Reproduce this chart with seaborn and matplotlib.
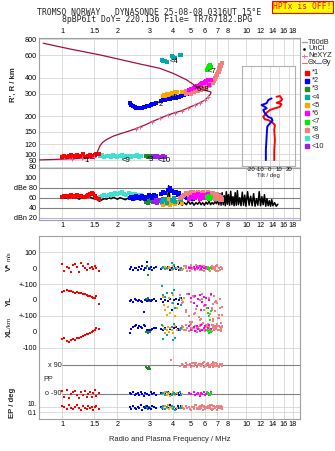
import numpy as np
import pandas as pd
import matplotlib
matplotlib.use("Agg")
import matplotlib.pyplot as plt
import matplotlib.ticker as mt
import seaborn as sns

nan = float("nan")

# ---------------- axis ticks ----------------
freq_ticks = [1, 1.5, 2, 3, 4, 5, 6, 7, 8, 10, 12, 14, 16, 18]
freq_ticklabels = ["1", "1.5", "2", "3", "4", "5", "6", "7", "8", "10", "12", "14", "16", "18"]
height_ticks = [80, 90, 100, 120, 150, 200, 300, 400, 600, 800]
db_ticks = [20, 40, 60, 80, 100]
db_ticklabels = ["dBn 20", "40", "60", "dBe 80", "100"]
tilt_ticks = [-20, -10, 0, 10, 20]

# ---------------- real-height profile ----------------
prof_f = [0.75, 0.85, 0.95, 1.05, 1.15, 1.25, 1.35, 1.45, 1.50, 1.53, 1.55, 1.58, 1.61, 1.66, 1.75,
          1.90, 2.10, 2.30, 2.52, 2.65, 2.85, 3.07, 3.41, 3.78, 4.10, 4.47, 4.86, 5.28, 5.63, 5.99,
          6.24, 6.40, 6.46, 6.38, 6.20, 5.85, 5.40, 4.76, 4.02, 3.41, 2.65, 1.61, 1.10, 0.79]
prof_h = [90.5, 91, 91.5, 92, 92.5, 93, 93.5, 94, 95, 98, 103, 110, 117, 124, 131,
          139, 146, 152, 159, 164, 171, 180, 192, 204, 212, 220, 232, 244, 254, 267,
          284, 296, 305, 311, 314, 320, 340, 384, 432, 473, 512, 603, 672, 745]
ne_f = [1.13, 1.28, 1.50, 2.52, 2.65, 3.07, 3.41, 3.78, 4.10, 4.47, 4.86, 5.28, 5.63, 5.99, 6.24]
ne_h = [92.4, 93.1, 95, 159, 164, 180, 192, 204, 212, 220, 232, 244, 254, 267, 284]

# ---------------- tilt inset ----------------
tiltx_deg = [7.1, 10.6, 13.1, 10.6, 7.1, 12.4, 10.6, 5.3, 0, -3.5, -7.1, -5.3, -1.8, 1.8, 5.3, 4.6, 5.3, 4.6, 4.6]
tiltx_h = [283, 287, 270, 259, 254, 248, 236, 230, 223, 212, 197, 188, 186, 180, 170, 155, 129, 108, 90]
tilty_deg = [1.8, -1.8, -3.5, -8.9, -5.3, -3.5, -7.1, -5.3, -1.8, 1.8, 2.8, 0, -2.8, -3.5, -4.3, -4.3]
tilty_h = [275, 267, 252, 244, 236, 230, 223, 210, 197, 192, 184, 175, 165, 137, 108, 90]

# ---------------- echo traces ----------------
trace_labels = ["*1", "*2", "*3", "<4", "<5", "*6", "<7", "*8", "<9", "<10"]
trace_colors = ["#ff0000", "#0000ff", "#208a20", "#00a8a8", "#ffa500",
                "#ff00ff", "#00ee00", "#f08080", "#40e0d0", "#9a20e8"]

t1_f = [1.00, 1.03, 1.06, 1.09, 1.12, 1.15, 1.18, 1.21, 1.24, 1.27, 1.30, 1.33, 1.36, 1.39, 1.42, 1.45, 1.48, 1.51, 1.54, 1.58]
t1_h = [96, 97, 95, 98, 99, 97, 96, 99, 95, 97, 100, 96, 95, 98, 99, 96, 97, 99, 100, 101]
t1_db = [62, 64, 63, 61, 65, 64, 62, 66, 63, 64, 61, 62, 64, 66, 68, 70, 67, 64, 60, 58]
t1_v = [25, -15, 10, 5, -20, 20, 30, 10, -25, 35, 15, 5, -10, 25, 0, 10, -5, 15, 5, -15]
t1_yl = [52, 56, 60, 54, 57, 50, 46, 52, 42, 44, 36, 38, 30, 28, 24, 18, 14, 10, 22, -22]
t1_xl = [-42, -38, -56, -62, -50, -46, -52, -36, -40, -30, -26, -20, -14, -10, -4, 2, 6, 12, 22, 16]
t1_pp = [-75, -110, -68, -115, -90, -82, -70, -100, -118, -78, -96, -72, -108, -93, -80, -112, -88, -66, -104, -85]
t1_ep = [30, 8, 2, 50, 5, 1, 15, 60, 3, 0.8, 20, 6, 1.5, 40, 4, 10, 0.7, 12, 25, 2]

t2_f = [2.34, 2.38, 2.43, 2.48, 2.53, 2.58, 2.63, 2.68, 2.73, 2.78, 2.84, 2.90, 2.96, 3.03, 3.10, 3.18,
        3.26, 3.45, 3.55, 3.65, 3.75, 3.85, 3.95, 4.05, 4.15, 4.25, 4.35, 4.45, 4.60, 4.80, 5.00, 5.15]
t2_h = [252, 245, 240, 236, 233, 232, 231, 232, 233, 234, 236, 238, 240, 244, 247, 250,
        254, 262, 265, 268, 270, 272, 275, 276, 279, 281, 283, 286, 291, 298, 305, 310]
t2_db = [60, 62, 58, 61, 63, 59, 62, 60, 64, 61, 58, 62, 65, 63, 60, 66,
         64, 68, 72, 70, 76, 80, 74, 69, 72, 66, 70, 64, 62, 60, 58, 57]
t2_v = [-5, 10, -10, 0, 5, -12, 8, -3, 12, -8, 3, 40, -5, 6, -10, 2,
        10, -6, 4, -2, 8, -12, 0, 14, -4, 6, -8, 3, nan, nan, nan, nan]
t2_yl = [-5, 0, -10, 5, -3, -8, 2, -6, -12, -72, 0, -4, 3, -8, -2, 4,
         -6, 8, -10, 2, -4, 6, -60, -3, 5, -22, -2, 10, nan, nan, nan, nan]
t2_xl = [-8, 20, 30, 38, 44, 25, 40, 32, 28, 45, 35, 15, 10, 12, 18, 22,
         25, 20, 15, 28, 30, 18, 12, 25, 30, 20, 15, 22, nan, nan, nan, nan]
t2_pp = [-88, -95, -82, -100, -90, -86, -97, -78, -92, -104, -85, -90, -96, -80, -93, -88,
         -101, -84, -91, -95, -79, -89, -98, -86, -92, -83, -100, -90, nan, nan, nan, nan]
t2_ep = [8, 2, 30, 5, 1.2, 15, 4, 50, 0.8, 10, 3, 20, 6, 1.5, 40, 7,
         2.5, 12, 0.9, 25, 5, 60, 3, 9, 1, 18, 4, 30, nan, nan, nan, nan]

t3_f = [2.85, 2.88, 2.92, 2.96, 3.02]
t3_h = [97, 98, 96, 97, 98]
t3_db = [52, 55, 50, 54, 53]
t3_v = [0, 12, -40, 5, -4]
t3_yl = [5, 0, 10, -5, 2]
t3_xl = [0, 4, -4, 0, 2]
t3_pp = [80, 70, 64, 76, 62]
t3_ep = [30, 5, 1, 12, 3]

t4_f = [3.48, 3.55, 3.62, 3.70, 3.95, 4.00, 4.05, 4.10, 4.38, 4.45]
t4_h = [548, 544, 540, 535, 590, 584, 572, 566, 600, 604]
t4_db = [52, 55, 58, 50, 56, 54, 60, 52, 58, 55]
t4_v = [0, 10, -5, 5, 35, -5, 20, 0, -10, 5]
t4_yl = [87, 31, 20, 45, 42, -21, 60, -50, 10, -30]
t4_xl = [44, -45, 20, -20, 30, -47, 50, -35, 10, 25]
t4_pp = [-90, -84, -96, -80, -100, -90, -86, -94, -82, -97]
t4_ep = [5, 20, 1, 8, 40, 2, 12, 0.8, 6, 3]

t5_f = [3.55, 3.60, 3.65, 3.70, 3.75, 3.80, 3.86, 3.95, 4.02, 4.10, 4.20, 4.47]
t5_h = [286, 292, 289, 298, 294, 290, 300, 304, 301, 307, 309, 311]
t5_db = [45, 50, 55, 48, 52, 58, 46, 50, 55, 48, 52, 50]
t5_v = [0, 5, 10, -5, 0, 8, 3, -8, 12, 0, 5, -3]
t5_yl = [20, -30, -60, -95, -45, 10, -80, -20, 30, -100, -50, 0]
t5_xl = [35, 20, -5, 10, 30, 0, 25, 15, -5, 35, 10, 20]
t5_pp = [-88, -95, -80, -100, -90, -84, -105, -92, -78, -96, -86, -90]
t5_ep = [8, 2, 25, 5, 50, 1, 10, 3, 15, 0.7, 6, 20]

t6_f = [4.90, 5.05, 5.20, 5.30, 5.40, 5.50, 5.60, 5.70, 5.80, 5.90, 6.00, 6.10, 6.20, 6.30, 6.45]
t6_h = [320, 326, 330, 335, 342, 338, 348, 354, 360, 366, 372, 378, 384, 352, 386]
t6_db = [58, 62, 66, 60, 64, 68, 57, 63, 66, 59, 65, 61, 67, 58, 62]
t6_v = [5, 0, 10, -5, 8, 2, 12, -3, 6, 0, 4, 10, -2, 5, 0]
t6_yl = [40, 10, -20, 25, -40, 5, 30, -63, -10, 20, -30, 15, -50, 0, 35]
t6_xl = [40, 12, 30, 5, 38, 20, 8, 42, 15, 28, 35, 10, 25, 44, 18]
t6_pp = [-86, -94, -80, -98, -90, -84, -102, -88, -92, -78, -96, -90, -85, -100, -82]
t6_ep = [nan, nan, nan, nan, nan, nan, nan, nan, nan, nan, nan, nan, nan, nan, nan]

t7_f = [6.15, 6.25, 6.30, 6.40, 6.45]
t7_h = [462, 476, 490, 502, 482]
t7_db = [62, 60, 64, 58, 61]
t7_v = [0, 5, -5, 0, 3]
t7_yl = [-52, -80, -100, -125, -70]
t7_xl = [10, 5, -5, 15, 0]
t7_pp = [-80, -95, -90, -100, -85]
t7_ep = [nan, nan, nan, nan, nan]

t8_f = [4.40, 4.50, 4.60, 4.70, 4.80, 4.90, 5.00, 5.10, 5.20, 5.30, 5.40, 5.50, 5.60, 5.70, 5.80, 5.90,
        6.00, 6.10, 6.20, 6.30, 6.40, 6.50, 6.60, 6.70, 6.80, 6.90, 7.00, 7.10, 7.20, 7.30, 7.40,
        5.25, 5.65, 5.95, 6.25, 6.55, 6.85, 7.05, 7.15, 7.35, 3.90,
        4.55, 4.75, 4.95, 5.15, 5.35, 5.45, 5.55, 5.75, 5.85, 6.05,
        6.15, 6.35, 6.45, 6.65, 6.75, 6.95, 7.25, 7.45, 5.05, 6.60]
t8_h = [nan, nan, nan, 300, 302, 304, 306, 308, 310, 312, 314, 316, 318, 321, 324, 328,
        332, 336, 341, 346, 352, 360, 368, 378, 390, 405, 422, 445, 470, 495, 520,
        322, 330, 340, 352, 374, 412, 440, 476, 505, nan,
        nan, 312, 314, 316, 320, 324, 326, 330, 334, 342,
        348, 360, 366, 385, 398, 430, 500, nan, 296, 360]
t8_db = [60, 62, 65, 68, 70, 66, 72, 68, 64, 70, 66, 72, 68, 63, 70, 66,
         62, 68, 72, 65, 60, 66, 70, 62, 58, 64, 68, 60, 56, 62, 58,
         66, 70, 64, 68, 60, 62, 58, 64, 55, nan,
         64, 70, 66, 72, 68, 62, 70, 66, 72, 64,
         68, 70, 62, 66, 60, 64, 58, 56, 68, 62]
t8_v = [5, -10, 15, 0, -15, 10, 20, -5, 8, -12, 3, 15, -8, 0, 12, -18,
        6, -4, 10, -10, 2, 14, -6, 8, 0, -14, 18, 4, -8, 10, -2,
        6, -12, 16, 0, -6, 12, -16, 4, 8, nan,
        -6, 12, -14, 4, 18, -2, 8, -10, 14, -4,
        6, -16, 10, 0, -8, 12, -12, 2, 16, -6]
t8_yl = [30, -20, 10, -60, 40, -100, -10, -140, 20, -80, -40, -170, 0, -120, 35, -60,
         -190, -30, -150, 15, -90, -50, -130, 25, -70, -160, -20, -110, 5, -180, -45,
         -85, -125, -35, -155, -65, -5, -115, -95, -145, nan,
         -15, -75, -135, 22, -55, -175, -105, 8, -145, -30,
         -185, -88, 32, -120, -10, -165, -50, -95, -140, -25]
t8_xl = [20, 35, 10, 45, 25, 5, 50, 15, 30, 40, 0, 22, 38, 12, 48, 28,
         8, 42, 18, 32, 2, 45, 25, 10, 36, 20, 50, 14, 30, 6, 40,
         26, 44, 16, 34, 4, 28, 12, 38, 22, nan,
         32, 14, 46, 24, 6, 38, 18, 50, 10, 30,
         44, 20, 4, 36, 26, 48, 12, 34, 22, 42]
t8_pp = [85, 95, 78, 100, 88, 92, 80, 104, 86, 96, 75, 90, 98, 82, 94, 106,
         84, 90, 100, 78, 88, 96, 80, 92, 102, 86, 94, 76, 98, 90, 84,
         100, 88, 80, 96, 92, 104, 86, 78, 94, 122,
         92, 80, 98, 86, 104, 76, 94, 88, 100, 82,
         96, 78, 90, 106, 84, 98, 88, 94, 80, 102]
t8_ep = [5, 20, 1, 40, 3, 10, 0.7, 15, 2, 50, 6, 1.5, 25, 4, 60, 8,
         0.9, 12, 30, 2.5, 7, 45, 1.2, 18, 3.5, 9, 0.8, 22, 5, 35, 2,
         14, 1, 28, 6, 0.6, 16, 4, 40, 11, nan,
         3, 25, 1, 12, 45, 2, 8, 30, 0.8, 15,
         4, 55, 1.5, 20, 6, 35, 2.5, 10, 0.7, 18]

t9_f = [1.60, 1.65, 1.70, 1.75, 1.80, 1.85, 1.90, 1.95, 2.00, 2.06, 2.12, 2.18, 2.24, 2.30, 2.36, 2.42, 2.48, 2.55, 2.62, 2.70]
t9_h = [97, 99, 96, 98, 97, 95, 99, 98, 96, 97, 99, 95, 98, 97, 96, 98, 97, 99, 96, 97]
t9_db = [62, 64, 66, 63, 65, 68, 66, 70, 67, 69, 72, 68, 66, 70, 67, 64, 68, 65, 63, 66]

t10_f = [3.00, 3.06, 3.12, 3.18, 3.24, 3.30, 3.38, 3.46, 3.55, 3.62]
t10_h = [96, 97, 95, 98, 96, 97, 95, 96, 97, 96]
t10_db = [55, 58, 52, 60, 54, 50, 56, 53, 58, 51]

# unclassified amplitude (black) in the dB panel
noise_f = [1.00, 1.04, 1.08, 1.12, 1.16, 1.20, 1.24, 1.28, 1.32, 1.36, 1.40, 1.44, 1.48, 1.52, 1.56, 1.60,
           1.65, 1.70, 1.75, 1.80, 1.85, 1.90, 1.95, 2.00, 2.07, 2.14, 2.21, 2.28, 2.35, 2.42, 2.50, 2.58, 2.66, 2.74, 2.82, 2.90,
           2.98, 3.06, 3.14, 3.22, 3.30, 3.38, 3.46, 3.54, 3.62, 3.70, 3.76, 3.80, 3.86, 3.94, 4.02, 4.10, 4.20, 4.30, 4.40, 4.50,
           4.62, 4.74, 4.86, 4.98, 5.10, 5.22, 5.34, 5.46, 5.58, 5.70, 5.82, 5.94, 6.06, 6.18, 6.30, 6.42, 6.54, 6.66, 6.78, 6.90,
           7.02, 7.12, 7.22, 7.32, 7.42, 7.52, 7.62, 7.72, 7.82, 7.92, 8.02, 8.14, 8.26, 8.38, 8.50, 8.62, 8.74, 8.86, 8.98, 9.10,
           9.25, 9.40, 9.55, 9.70, 9.85, 10.0, 10.2, 10.4, 10.6, 10.8, 11.0, 11.2, 11.4, 11.6, 11.8, 12.0, 12.2, 12.4, 12.6, 12.8,
           13.0, 13.2, 13.4, 13.6, 13.8, 14.0, 14.3, 14.6, 14.9]
noise_db = [59, 60, 58, 61, 59, 60, 57, 60, 62, 61, 63, 60, 58, 60, 55, 53,
            56, 58, 57, 60, 58, 61, 59, 57, 60, 58, 56, 59, 57, 60, 56, 58, 55, 57, 54, 56,
            52, 56, 50, 55, 49, 54, 47, 53, 45, 56, 62, 84, 58, 48, 55, 46, 54, 47, 52, 45,
            50, 46, 53, 47, 51, 45, 50, 47, 52, 46, 50, 45, 51, 47, 53, 46, 50, 47, 52, 48,
            55, 46, 68, 45, 70, 46, 64, 44, 72, 47, 66, 45, 73, 46, 62, 44, 70, 45, 74, 46,
            60, 44, 71, 45, 65, 43, 72, 45, 63, 44, 68, 43, 58, 45, 72, 44, 62, 46, 66, 43,
            58, 44, 54, 43, 56, 44, 50, 43, 47]

# ---------------- layout constants (pixels) ----------------
W, H = 335, 451
XL_MIN, XL_MAX = 0.75, 19.66
PX_V0, PX_YL0, PX_XL0, PX_PER_UNIT = 32.3, 64.0, 96.0, 0.16
PX_PP0, PX_PER_DEG = 143.35, 0.1594
PX_EP10, PX_PER_DEC = 171.0, 2.35

sns.set_theme(style="white")
plt.rcParams["font.family"] = ["Liberation Sans", "DejaVu Sans"]
plt.rcParams["axes.unicode_minus"] = False

fig = plt.figure(figsize=(W / 100, H / 100), dpi=100)
fig.patch.set_facecolor("white")


def box(l, t, r, b):
    return [l / W, 1 - b / H, (r - l) / W, (b - t) / H]


ax_h = fig.add_axes(box(39, 37.5, 300, 168))
ax_db = fig.add_axes(box(39, 168, 300, 220))
ax_p = fig.add_axes(box(39, 236, 300, 419))
ax_t = fig.add_axes(box(241.7, 65.7, 295, 166))
ov = fig.add_axes([0, 0, 1, 1])
ov.set_xlim(0, W)
ov.set_ylim(H, 0)
ov.axis("off")

FRAME = "#a0a0a0"
GRID = "#d6d6d6"
DARK = "#808080"
TS = 5.2


def style(ax):
    ax.set_xscale("log")
    ax.set_xlim(XL_MIN, XL_MAX)
    ax.xaxis.set_major_locator(mt.FixedLocator(freq_ticks))
    ax.xaxis.set_major_formatter(mt.FixedFormatter(freq_ticklabels))
    ax.xaxis.set_minor_locator(mt.NullLocator())
    ax.xaxis.set_minor_formatter(mt.NullFormatter())
    ax.tick_params(length=0, labelsize=TS, pad=1.5, colors="black")
    for s in ax.spines.values():
        s.set_color(FRAME)
        s.set_linewidth(0.8)
    ax.grid(True, axis="x", color=GRID, lw=0.6)
    ax.set_axisbelow(True)
    ax.set_facecolor("white")


for a in (ax_h, ax_db, ax_p):
    style(a)

# ---------- top panel: heights ----------
ax_h.set_yscale("log")
ax_h.set_ylim(78.2, 826)
ax_h.yaxis.set_major_locator(mt.FixedLocator(height_ticks))
ax_h.yaxis.set_major_formatter(mt.FixedFormatter([str(v) for v in height_ticks]))
ax_h.yaxis.set_minor_locator(mt.NullLocator())
ax_h.yaxis.set_minor_formatter(mt.NullFormatter())
ax_h.grid(True, axis="y", color=GRID, lw=0.6)
ax_h.xaxis.tick_top()
ax_h.tick_params(labeltop=True, labelbottom=False, length=0)

traces = {
    1: (t1_f, t1_h, t1_db), 2: (t2_f, t2_h, t2_db), 3: (t3_f, t3_h, t3_db), 4: (t4_f, t4_h, t4_db),
    5: (t5_f, t5_h, t5_db), 6: (t6_f, t6_h, t6_db), 7: (t7_f, t7_h, t7_db), 8: (t8_f, t8_h, t8_db),
    9: (t9_f, t9_h, t9_db), 10: (t10_f, t10_h, t10_db),
}
draw_order = [9, 10, 1, 3, 2, 5, 4, 8, 6, 7]
for k in draw_order:
    f, h, _ = traces[k]
    sns.scatterplot(x=np.asarray(f, float), y=np.asarray(h, float), ax=ax_h, color=trace_colors[k - 1],
                    marker="s", s=5, linewidth=0, legend=False, zorder=2)

prof = pd.DataFrame({"f": prof_f, "h": prof_h})
sns.lineplot(data=prof, x="f", y="h", ax=ax_h, sort=False, estimator=None, color="#a01040", lw=0.9, zorder=3)
sns.scatterplot(x=ne_f, y=ne_h, ax=ax_h, marker="+", s=9, color="#f06090", linewidth=0.7, legend=False, zorder=4)
ax_h.set_xlabel("")
ax_h.set_ylabel("")

lab_kw = dict(fontsize=5.6, ha="left", va="center", color="black", zorder=5)
ax_h.text(1.30, 89.6, "*1", **lab_kw)
ax_h.text(2.11, 90, "<9", **lab_kw)
ax_h.text(2.91, 90.5, "*3", **lab_kw)
ax_h.text(3.30, 90, "<10", **lab_kw)
ax_h.text(3.27, 248, "*2", **lab_kw)
ax_h.text(3.86, 278, "<5", **lab_kw)
ax_h.text(3.86, 533, "<4", **lab_kw)
ax_h.text(6.20, 446, "<7", **lab_kw)
ax_h.text(5.28, 320, "*6*8", **lab_kw)

# ---------- tilt inset ----------
ax_t.set_yscale("log")
ax_t.set_ylim(80.9, 497)
ax_t.set_xlim(-30, 26.7)
ax_t.yaxis.set_major_locator(mt.FixedLocator(height_ticks))
ax_t.yaxis.set_minor_locator(mt.NullLocator())
ax_t.yaxis.set_major_formatter(mt.NullFormatter())
ax_t.yaxis.set_minor_formatter(mt.NullFormatter())
ax_t.set_xticks(tilt_ticks)
ax_t.set_xticklabels([str(v) for v in tilt_ticks])
ax_t.tick_params(length=0, labelsize=4.3, pad=0.8, colors="black")
ax_t.grid(True, color=GRID, lw=0.6)
ax_t.set_axisbelow(True)
ax_t.set_facecolor("white")
for s in ax_t.spines.values():
    s.set_color("#b0b0b8")
    s.set_linewidth(0.8)
sns.lineplot(x=tiltx_deg, y=tiltx_h, ax=ax_t, sort=False, estimator=None, color="#ff0000", lw=1.4)
sns.lineplot(x=tilty_deg, y=tilty_h, ax=ax_t, sort=False, estimator=None, color="#0000ff", lw=1.4)
ax_t.set_xlabel("Tilt / deg", fontsize=4.3, labelpad=0.3)
ax_t.set_ylabel("")

# ---------- dB panel ----------
ax_db.set_ylim(15.4, 119.4)
ax_db.set_yticks(db_ticks)
ax_db.set_yticklabels(db_ticklabels)
for lvl in (40, 60, 80):
    ax_db.axhline(lvl, color=DARK, lw=0.8, zorder=1)
ax_db.axhline(20, color="#b4b4f0", lw=0.8, zorder=1)
sns.lineplot(x=noise_f, y=noise_db, ax=ax_db, sort=False, estimator=None, color="black", lw=1.1, zorder=2)
for k in draw_order:
    f, _, d = traces[k]
    sns.scatterplot(x=np.asarray(f, float), y=np.asarray(d, float), ax=ax_db, color=trace_colors[k - 1],
                    marker="s", s=5, linewidth=0, legend=False, zorder=3)
ax_db.set_xlabel("")
ax_db.set_ylabel("")

# ---------- bottom panel: V*, YL, XL, PP, EP ----------
ax_p.set_ylim(183, 0)
ax_p.set_yticks([PX_V0 - 100 * PX_PER_UNIT, PX_V0, PX_V0 + 100 * PX_PER_UNIT, PX_YL0,
                 PX_YL0 + 100 * PX_PER_UNIT, PX_XL0, PX_XL0 + 100 * PX_PER_UNIT,
                 PX_EP10 + 1.4, PX_EP10 + 2 * PX_PER_DEC - 1.5])
ax_p.set_yticklabels(["100", "0", "+-100", "0", "+-100", "0", "-100", "10.", "0.1"])
ylabs = ax_p.get_yticklabels()
ylabs[-2].set_va("bottom")
ylabs[-2].set_fontsize(4.7)
ylabs[-1].set_va("top")
ylabs[-1].set_fontsize(4.7)
for yl in (PX_V0 - 100 * PX_PER_UNIT, PX_V0 + 100 * PX_PER_UNIT, PX_YL0 + 100 * PX_PER_UNIT,
           PX_XL0 + 100 * PX_PER_UNIT, PX_EP10, PX_EP10 + 2 * PX_PER_DEC):
    ax_p.axhline(yl, color=GRID, lw=0.6, zorder=1)
for yl in (PX_PP0 - 90 * PX_PER_DEG, PX_PP0 + 90 * PX_PER_DEG):
    ax_p.hlines(yl, 1.0, XL_MAX, color=DARK, lw=0.8, zorder=1)
ax_p.text(0.995, PX_PP0 - 90 * PX_PER_DEG, "x 90", fontsize=TS, ha="right", va="center")
ax_p.text(0.995, PX_PP0 + 90 * PX_PER_DEG, "o -90", fontsize=TS, ha="right", va="center")
ax_p.text(0.79, PX_PP0, "PP", fontsize=TS, ha="left", va="center")

bottom = {
    1: (t1_f, t1_v, t1_yl, t1_xl, t1_pp, t1_ep), 2: (t2_f, t2_v, t2_yl, t2_xl, t2_pp, t2_ep),
    3: (t3_f, t3_v, t3_yl, t3_xl, t3_pp, t3_ep), 4: (t4_f, t4_v, t4_yl, t4_xl, t4_pp, t4_ep),
    5: (t5_f, t5_v, t5_yl, t5_xl, t5_pp, t5_ep), 6: (t6_f, t6_v, t6_yl, t6_xl, t6_pp, t6_ep),
    7: (t7_f, t7_v, t7_yl, t7_xl, t7_pp, t7_ep), 8: (t8_f, t8_v, t8_yl, t8_xl, t8_pp, t8_ep),
}
for k in [8, 6, 7, 1, 3, 2, 5, 4]:
    f, v, yl, xl, pp, ep = [np.asarray(a, float) for a in bottom[k]]
    ys = np.concatenate([PX_V0 - v * PX_PER_UNIT,
                         PX_YL0 - yl * PX_PER_UNIT,
                         PX_XL0 - xl * PX_PER_UNIT,
                         PX_PP0 - pp * PX_PER_DEG,
                         PX_EP10 + (1 - np.log10(ep)) * PX_PER_DEC])
    xs = np.concatenate([f] * 5)
    sns.scatterplot(x=xs, y=ys, ax=ax_p, color=trace_colors[k - 1], marker="s", s=4,
                    linewidth=0, legend=False, zorder=3)
ax_p.set_xlabel("")
ax_p.set_ylabel("")

# ---------- overlay texts ----------
mono = ["DejaVu Sans Mono"]
ov.text(149, 12.3, "TROMSO NORWAY   DYNASONDE 25-08-08 0316UT 15°E", family=mono, fontsize=5.9,
        ha="center", va="center")
ov.text(157, 20, "8pBP6It DoY= 220.136 File= TR767182.BPG", family=mono, fontsize=5.9,
        ha="center", va="center")
ov.text(302.5, 6.8, "HPTx is OFF!", family=mono, fontsize=5.8, color="red", ha="center", va="center",
        bbox=dict(boxstyle="square,pad=0.18", fc="yellow", ec="red", lw=0.8))

ov.text(13, 85, "R', R / km", rotation=90, fontsize=5.6, fontweight="bold", ha="center", va="center")
ov.text(9.5, 267, "V*", rotation=90, fontsize=5.6, fontweight="bold", ha="center", va="center")
ov.text(9.5, 256.5, "m/s", rotation=90, fontsize=4.3, ha="center", va="center")
ov.text(9.5, 301, "YL", rotation=90, fontsize=5.6, fontweight="bold", ha="center", va="center")
ov.text(9.5, 322.5, "/km", rotation=90, fontsize=4.6, ha="center", va="center")
ov.text(9.5, 332.5, "XL", rotation=90, fontsize=5.6, fontweight="bold", ha="center", va="center")
ov.text(13, 403, "EP / deg", rotation=90, fontsize=5.6, fontweight="bold", ha="center", va="center")
ov.text(169.5, 439.3, "Radio and Plasma Frequency / MHz", fontsize=5.4, ha="center", va="center")

# legend
LT = 5.3
ov.plot([301.7, 306.7], [42, 42], color="#a0a0a0", lw=1.0)
ov.text(308.3, 42, "T60dB", fontsize=LT, va="center")
ov.plot([304.3], [48.7], marker="o", color="black", ms=0.9, lw=0)
ov.text(308.3, 48.7, "UnCl", fontsize=LT, va="center")
ov.plot([301.7, 306.7], [55.5, 55.5], color="#f07090", lw=0.8)
ov.plot([304.2], [55.5], marker="+", color="#f07090", ms=3.2, mew=0.7, lw=0)
ov.text(308.3, 55.5, "NeXYZ", fontsize=LT, va="center")
ov.plot([301.7, 306.7], [62.5, 62.5], color="#ff6060", lw=0.8)
ov.text(308.0, 62.5, "Θx", fontsize=LT, va="center")
ov.plot([316.0, 321.0], [62.5, 62.5], color="#7070ff", lw=0.8)
ov.text(321.5, 62.5, "Θy", fontsize=LT, va="center")
for i, (lab, col) in enumerate(zip(trace_labels, trace_colors)):
    yy = 72.7 + 8.15 * i
    ov.plot([306.7], [yy], marker="s", color=col, ms=2.3, lw=0)
    ov.text(311.5, yy, lab, fontsize=LT, va="center")

fig.savefig("out.png", dpi=100, facecolor="white")
